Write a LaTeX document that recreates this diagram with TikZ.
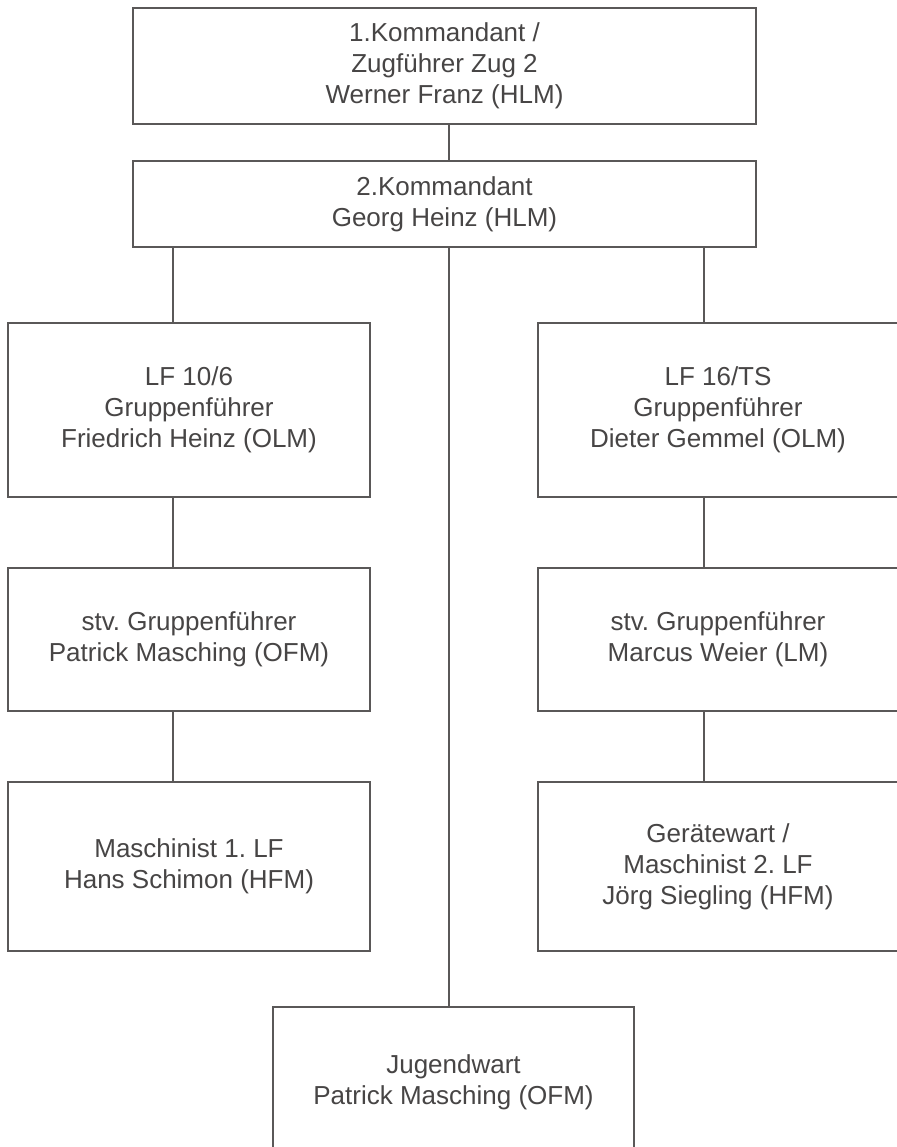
\documentclass[tikz,border=0pt]{standalone}
\usepackage{fontspec}
\setmainfont{Liberation Sans}
\definecolor{linec}{HTML}{5A5858}
\definecolor{textc}{HTML}{474545}
\frenchspacing
\begin{document}
\begin{tikzpicture}[x=1pt,y=-1pt,
  orgbox/.style={draw=linec, line width=1.7pt, rectangle, align=center, inner sep=0pt,
    text=textc, font=\fontsize{26}{31}\selectfont},
  conn/.style={draw=linec, line width=1.7pt}]
\useasboundingbox[fill=white] (0,0) rectangle (896,1147);
\node[orgbox, minimum width=623, minimum height=116] (b1) at (444.5,66) {1.Kommandant /\\Zugführer Zug 2\\Werner Franz (HLM)};
\node[orgbox, minimum width=623, minimum height=86] (b2) at (444.5,204) {2.Kommandant\\Georg Heinz (HLM)};
\node[orgbox, minimum width=362, minimum height=174] (lfl) at (189,410) {LF 10/6\\Gruppenführer\\Friedrich Heinz (OLM)};
\node[orgbox, minimum width=360, minimum height=174] (lfr) at (718,410) {LF 16/TS\\Gruppenführer\\Dieter Gemmel (OLM)};
\node[orgbox, minimum width=362, minimum height=143] (stvl) at (189,639.5) {stv. Gruppenführer\\Patrick Masching (OFM)};
\node[orgbox, minimum width=360, minimum height=143] (stvr) at (718,639.5) {stv. Gruppenführer\\Marcus Weier (LM)};
\node[orgbox, minimum width=362, minimum height=169] (mal) at (189,866.5) {Maschinist 1. LF\\Hans Schimon (HFM)};
\node[orgbox, minimum width=360, minimum height=169] (mar) at (718,866.5) {Gerätewart /\\Maschinist 2. LF\\Jörg Siegling (HFM)};
\node[orgbox, minimum width=361, minimum height=150] (jug) at (453.5,1082) {Jugendwart\\Patrick Masching (OFM)};
\coordinate (xc) at (449,0);
\coordinate (xl) at (173,0);
\coordinate (xr) at (704,0);
\draw[conn] (b1.south -| xc) -- (b2.north -| xc);
\draw[conn] (b2.south -| xc) -- (jug.north -| xc);
\draw[conn] (b2.south -| xl) -- (lfl.north -| xl);
\draw[conn] (lfl.south -| xl) -- (stvl.north -| xl);
\draw[conn] (stvl.south -| xl) -- (mal.north -| xl);
\draw[conn] (b2.south -| xr) -- (lfr.north -| xr);
\draw[conn] (lfr.south -| xr) -- (stvr.north -| xr);
\draw[conn] (stvr.south -| xr) -- (mar.north -| xr);
\end{tikzpicture}
\end{document}
